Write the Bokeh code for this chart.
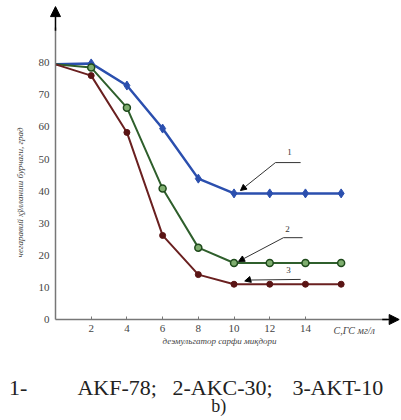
import math
from bokeh.plotting import figure
from bokeh.models import Label, Arrow, NormalHead, FixedTicker, Range1d
from bokeh.embed import file_html
from bokeh.resources import INLINE

# ---- data ----
x_vals = [0, 2, 4, 6, 8, 10, 12, 14, 16]
s1 = [79.5, 79.8, 72.9, 59.5, 43.9, 39.3, 39.3, 39.3, 39.3]   # 1 - AKF-78
s2 = [79.5, 78.5, 66.0, 40.8, 22.4, 17.6, 17.6, 17.6, 17.6]   # 2 - AKC-30
s3 = [79.5, 76.0, 58.3, 26.2, 14.0, 11.0, 11.0, 11.0, 11.0]   # 3 - AKT-10
x_ticks = [2, 4, 6, 8, 10, 12, 14]
y_ticks = [0, 10, 20, 30, 40, 50, 60, 70, 80]

y_title = "чегаравий ҳўлланиш бурчаги, град"
x_title = "деэмульгатор сарфи миқдори"
x_unit = "C,ГС мг/л"
caption_parts = [("1-", -2.6), ("AKF-78;", 1.23), ("2-AKC-30;", 6.55), ("3-", 13.28), ("AKT-10", 14.29)]
sub_caption = "b)"

SERIF = "Liberation Serif"

# leader annotations: (tip, elbow, end, label position, label)
leaders = [
    ((10.36, 40.2), (12.32, 48.9), (13.73, 48.9), (13.1, 51.4), "1"),
    ((10.25, 18.1), (12.77, 25.5), (13.84, 25.5), (13.0, 27.4), "2"),
    ((10.6, 12.0), (10.8, 12.3), (13.73, 12.5), (13.05, 14.6), "3"),
]

p = figure(width=401, height=420, output_backend="svg", toolbar_location=None,
           x_range=Range1d(-3.08, 19.38), y_range=Range1d(-31.46, 99.4),
           min_border_left=0, min_border_right=0, min_border_top=0, min_border_bottom=0)
p.outline_line_color = None
p.grid.visible = False
p.background_fill_color = "white"

for ax in (p.xaxis[0], p.yaxis[0]):
    ax.fixed_location = 0
    ax.axis_line_color = "#777777"
    ax.axis_line_width = 1.5
    ax.major_tick_out = 0
    ax.minor_tick_line_color = None
    ax.major_label_text_font = SERIF
    ax.major_label_text_font_size = "11px"
    ax.major_label_text_color = "#444444"

p.xaxis.ticker = FixedTicker(ticks=x_ticks)
p.yaxis.ticker = FixedTicker(ticks=y_ticks)
p.xaxis.bounds = (0, 18.6)
p.yaxis.bounds = (0, 91)
p.xaxis.major_tick_in = 3
p.xaxis.major_tick_line_color = "#777777"
p.yaxis.major_tick_in = 0
p.yaxis.major_tick_line_color = None
p.xaxis.major_label_standoff = 5
p.yaxis.major_label_standoff = 6

# axis arrows
p.add_layout(Arrow(end=NormalHead(size=10, fill_color="black", line_color="black"),
                   x_start=0, y_start=90, x_end=0, y_end=97.5,
                   line_color="black", line_width=1.5))
p.add_layout(Arrow(end=NormalHead(size=10, fill_color="black", line_color="black"),
                   x_start=18.3, y_start=0, x_end=19.25, y_end=0,
                   line_color="black", line_width=1.5))

# series
p.line(x_vals, s1, line_color="#2b4fae", line_width=2.5)
p.scatter(x_vals[1:], s1[1:], marker="diamond", size=9, fill_color="#2b4fae", line_color="#2b4fae")

p.line(x_vals, s2, line_color="#2f5f2c", line_width=2)
p.scatter(x_vals[1:], s2[1:], marker="circle", size=7, fill_color="#7fae6f", line_color="#1f4a1c", line_width=1.5)

p.line(x_vals, s3, line_color="#6a2020", line_width=2)
p.scatter(x_vals[1:], s3[1:], marker="circle", size=6, fill_color="#5a1414", line_color="#5a1414")

# leaders
for tip, elbow, end, lpos, txt in leaders:
    p.line([elbow[0], end[0]], [elbow[1], end[1]], line_color="#333333", line_width=1)
    p.add_layout(Arrow(end=NormalHead(size=6, fill_color="black", line_color="black"),
                       x_start=elbow[0], y_start=elbow[1], x_end=tip[0], y_end=tip[1],
                       line_color="#333333", line_width=1))
    p.add_layout(Label(x=lpos[0], y=lpos[1], text=txt, text_font=SERIF,
                       text_font_size="9px", text_color="#333333",
                       text_align="center", text_baseline="bottom"))

# titles
p.add_layout(Label(x=-1.96, y=39.6, text=y_title, angle=math.pi / 2,
                   text_font=SERIF, text_font_style="italic",
                   text_font_size="9px", text_color="#444444",
                   text_align="center", text_baseline="middle"))
p.add_layout(Label(x=9.19, y=-6.6, text=x_title,
                   text_font=SERIF, text_font_style="italic",
                   text_font_size="9px", text_color="#444444",
                   text_align="center", text_baseline="middle"))
p.add_layout(Label(x=15.57, y=-3.5, text=x_unit,
                   text_font=SERIF, text_font_style="italic",
                   text_font_size="10px", text_color="#444444",
                   text_align="left", text_baseline="middle"))

# caption
for txt, xpos in caption_parts:
    p.add_layout(Label(x=xpos, y=-21.2, text=txt, text_font=SERIF,
                       text_font_size="22px", text_color="#222222",
                       text_align="left", text_baseline="middle"))
p.add_layout(Label(x=9.15, y=-27.0, text=sub_caption, text_font=SERIF,
                   text_font_size="18px", text_color="#222222",
                   text_align="center", text_baseline="middle"))

open("out.html", "w").write(file_html(p, INLINE))
